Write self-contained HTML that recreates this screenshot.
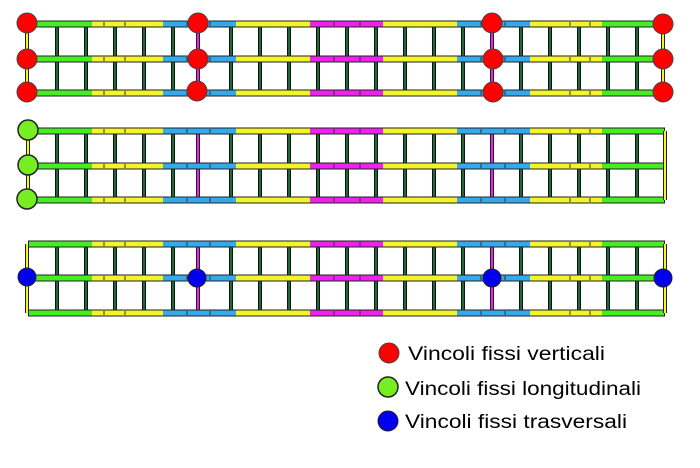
<!DOCTYPE html>
<html><head><meta charset="utf-8"><style>html,body{margin:0;padding:0;background:#fff;width:700px;height:468px;overflow:hidden}</style></head>
<body>
<svg width="700" height="468" viewBox="0 0 700 468" xmlns="http://www.w3.org/2000/svg">
<defs>
<g id="beam">
  <rect x="28" y="-3.5" width="637" height="7" fill="#222"/>
  <rect x="29" y="-2.5" width="63" height="5" fill="#44ee22"/>
  <rect x="92" y="-2.5" width="71" height="5" fill="#f4f42a"/>
  <rect x="163" y="-2.5" width="73" height="5" fill="#33aaee"/>
  <rect x="236" y="-2.5" width="74" height="5" fill="#f4f42a"/>
  <rect x="310" y="-2.5" width="73" height="5" fill="#ee22ee"/>
  <rect x="383" y="-2.5" width="74" height="5" fill="#f4f42a"/>
  <rect x="457" y="-2.5" width="73" height="5" fill="#33aaee"/>
  <rect x="530" y="-2.5" width="72" height="5" fill="#f4f42a"/>
  <rect x="602" y="-2.5" width="62" height="5" fill="#44ee22"/>
  <g stroke="#333" stroke-width="1">
    <line x1="104" y1="-2" x2="104" y2="2"/><line x1="125" y1="-2" x2="125" y2="2"/>
    <line x1="187" y1="-2" x2="187" y2="2"/><line x1="210" y1="-2" x2="210" y2="2"/>
    <line x1="334" y1="-2" x2="334" y2="2"/><line x1="360" y1="-2" x2="360" y2="2"/>
    <line x1="481" y1="-2" x2="481" y2="2"/><line x1="505" y1="-2" x2="505" y2="2"/>
    <line x1="570" y1="-2" x2="570" y2="2"/><line x1="590" y1="-2" x2="590" y2="2"/>
  </g>
</g>
<g id="posts">
  <g stroke="#111" stroke-width="4">
    <line x1="57" y1="0" x2="57" y2="69"/><line x1="86" y1="0" x2="86" y2="69"/><line x1="115" y1="0" x2="115" y2="69"/><line x1="144" y1="0" x2="144" y2="69"/><line x1="173" y1="0" x2="173" y2="69"/>
    <line x1="231" y1="0" x2="231" y2="69"/><line x1="260" y1="0" x2="260" y2="69"/><line x1="289" y1="0" x2="289" y2="69"/><line x1="318" y1="0" x2="318" y2="69"/><line x1="347" y1="0" x2="347" y2="69"/><line x1="376" y1="0" x2="376" y2="69"/><line x1="405" y1="0" x2="405" y2="69"/><line x1="434" y1="0" x2="434" y2="69"/><line x1="463" y1="0" x2="463" y2="69"/>
    <line x1="521" y1="0" x2="521" y2="69"/><line x1="550" y1="0" x2="550" y2="69"/><line x1="579" y1="0" x2="579" y2="69"/><line x1="608" y1="0" x2="608" y2="69"/><line x1="637" y1="0" x2="637" y2="69"/>
  </g>
  <g stroke="#1e6b35" stroke-width="2">
    <line x1="57" y1="0" x2="57" y2="69"/><line x1="86" y1="0" x2="86" y2="69"/><line x1="115" y1="0" x2="115" y2="69"/><line x1="144" y1="0" x2="144" y2="69"/><line x1="173" y1="0" x2="173" y2="69"/>
    <line x1="231" y1="0" x2="231" y2="69"/><line x1="260" y1="0" x2="260" y2="69"/><line x1="289" y1="0" x2="289" y2="69"/><line x1="318" y1="0" x2="318" y2="69"/><line x1="347" y1="0" x2="347" y2="69"/><line x1="376" y1="0" x2="376" y2="69"/><line x1="405" y1="0" x2="405" y2="69"/><line x1="434" y1="0" x2="434" y2="69"/><line x1="463" y1="0" x2="463" y2="69"/>
    <line x1="521" y1="0" x2="521" y2="69"/><line x1="550" y1="0" x2="550" y2="69"/><line x1="579" y1="0" x2="579" y2="69"/><line x1="608" y1="0" x2="608" y2="69"/><line x1="637" y1="0" x2="637" y2="69"/>
  </g>
  <g stroke="#222" stroke-width="4"><line x1="198" y1="0" x2="198" y2="69"/><line x1="492" y1="0" x2="492" y2="69"/></g>
  <g stroke="#ee22ee" stroke-width="2"><line x1="198" y1="0" x2="198" y2="69"/><line x1="492" y1="0" x2="492" y2="69"/></g>
</g>
</defs>

<!-- Structure 1 -->
<g transform="translate(0,24)"><use href="#posts"/></g>
<use href="#beam" transform="translate(0,24)"/>
<use href="#beam" transform="translate(0,59)"/>
<use href="#beam" transform="translate(0,93)"/>
<g stroke="#222" stroke-width="4"><line x1="27" y1="24" x2="27" y2="93"/><line x1="663" y1="24" x2="663" y2="93"/></g>
<g stroke="#f4f42a" stroke-width="2"><line x1="27" y1="24" x2="27" y2="93"/><line x1="663" y1="24" x2="663" y2="93"/></g>
<g fill="#ff0000" stroke="#444" stroke-width="1">
<circle cx="27" cy="23" r="10"/><circle cx="27" cy="59" r="10"/><circle cx="27" cy="92" r="10"/>
<circle cx="198" cy="23" r="10"/><circle cx="198" cy="59" r="10"/><circle cx="197" cy="91" r="10"/>
<circle cx="492" cy="23" r="10"/><circle cx="493" cy="59" r="10"/><circle cx="493" cy="92" r="10"/>
<circle cx="663" cy="24" r="10"/><circle cx="663" cy="59" r="10"/><circle cx="663" cy="92" r="10"/>
</g>

<!-- Structure 2 -->
<g transform="translate(0,131)"><use href="#posts"/></g>
<use href="#beam" transform="translate(0,131)"/>
<use href="#beam" transform="translate(0,166)"/>
<use href="#beam" transform="translate(0,200)"/>
<g stroke="#222" stroke-width="4"><line x1="28" y1="131" x2="28" y2="200"/><line x1="665" y1="131" x2="665" y2="200"/></g>
<g stroke="#f4f42a" stroke-width="2"><line x1="28" y1="131" x2="28" y2="200"/><line x1="665" y1="131" x2="665" y2="200"/></g>
<g fill="#77ee22" stroke="#222" stroke-width="1.5">
<circle cx="28" cy="130" r="10"/><circle cx="28" cy="165" r="10"/><circle cx="27" cy="199" r="10"/>
</g>

<!-- Structure 3 -->
<g transform="translate(0,244)"><use href="#posts"/></g>
<use href="#beam" transform="translate(0,244)"/>
<use href="#beam" transform="translate(0,278)"/>
<use href="#beam" transform="translate(0,313)"/>
<g stroke="#222" stroke-width="4"><line x1="27" y1="244" x2="27" y2="313"/><line x1="665" y1="244" x2="665" y2="313"/></g>
<g stroke="#f4f42a" stroke-width="2"><line x1="27" y1="244" x2="27" y2="313"/><line x1="665" y1="244" x2="665" y2="313"/></g>
<g fill="#0000ee" stroke="#222" stroke-width="1">
<circle cx="27" cy="277" r="9"/><circle cx="197" cy="278" r="9"/><circle cx="492" cy="278" r="9"/><circle cx="663" cy="278" r="9"/>
</g>

<!-- Legend -->
<circle cx="389" cy="353" r="10" fill="#ff0000" stroke="#444" stroke-width="1"/>
<circle cx="388" cy="387" r="10" fill="#77ee22" stroke="#222" stroke-width="1.5"/>
<circle cx="388" cy="421" r="10" fill="#0000ee" stroke="#222" stroke-width="1"/>
<g font-family="Liberation Sans, Arial, sans-serif" font-size="19" fill="#000">
<text x="408" y="360" textLength="197" lengthAdjust="spacingAndGlyphs">Vincoli fissi verticali</text>
<text x="405" y="395" textLength="236" lengthAdjust="spacingAndGlyphs">Vincoli fissi longitudinali</text>
<text x="405" y="428" textLength="222" lengthAdjust="spacingAndGlyphs">Vincoli fissi trasversali</text>
</g>
</svg>
</body></html>
